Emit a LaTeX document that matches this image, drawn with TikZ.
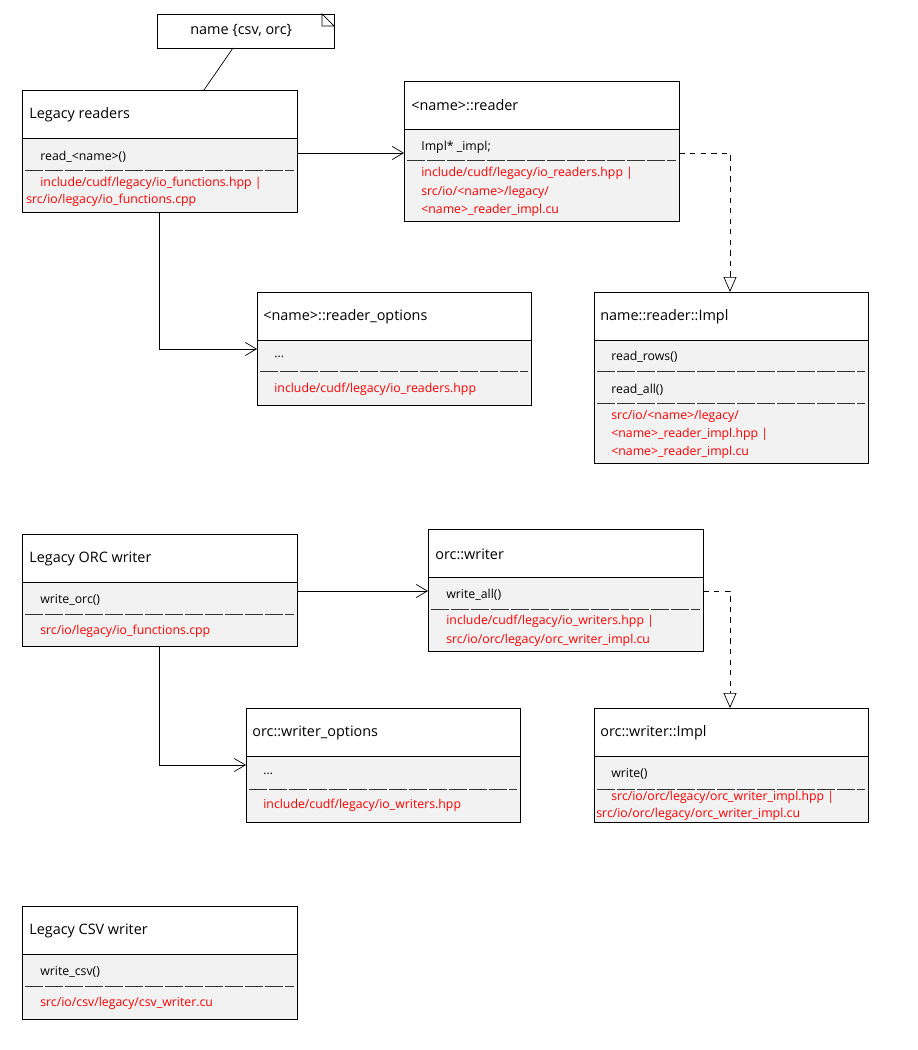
\documentclass[tikz,border=0pt]{standalone}
\usepackage{fontspec}
\setmainfont{Open Sans}
\usetikzlibrary{arrows.meta}

\tikzset{
  head/.style={draw=black, fill=white, anchor=north west, inner sep=0pt, minimum width=5.5cm, minimum height=0.96cm},
  body/.style={draw=black, fill=black!5, anchor=north west, inner sep=0pt, minimum width=5.5cm},
  title/.style={anchor=west, font=\fontsize{8.2}{9}\selectfont, inner sep=0pt},
  member/.style={anchor=west, font=\fontsize{7}{8}\selectfont, inner sep=0pt},
  path/.style={member, text=red},
  sep/.style={dash pattern=on 0.36cm off 0.04cm, black!80},
  assoc/.style={-{Straight Barb[length=2.2mm,width=2.6mm]}},
  realize/.style={dashed, -{Triangle[open,length=3mm,width=2.6mm]}},
}

\begin{document}
\begin{tikzpicture}[x=0.02cm, y=-0.02cm]
  \useasboundingbox (0,0) rectangle (918,1050);

  % note
  \node[draw, fill=white, anchor=north west, inner sep=0pt, minimum width=3.54cm, minimum height=0.68cm,
        path picture={\fill[white] (322,14) -- (334,26) -- (334,14) -- cycle;}] (note) at (157,14) {};
  \draw[fill=white] (322,14) -- (334,26) -- (322,26) -- cycle;
  \node[title] at (190,31) {name \{csv, orc\}};

  % Legacy readers
  \node[head] (lrd) at (22,90) {};
  \node[body, minimum height=1.48cm] (lrdb) at (22,138) {};
  \node[title] at (29,115) {Legacy readers};
  \node[member] at (40,157) {read\_<name>()};
  \draw[sep] (25,170) -- (294,170);
  \node[path] at (40,183) {include/cudf/legacy/io\_functions.hpp |};
  \node[path] at (26,200) {src/io/legacy/io\_functions.cpp};
  \draw (233,48) -- (204,90);

  % <name>::reader
  \node[head] (rdr) at (404,81) {};
  \node[body, minimum height=1.84cm] (rdrb) at (404,129) {};
  \node[title] at (411,105) {<name>::reader};
  \node[member] at (421,147) {Impl* \_impl;};
  \draw[sep] (407,160) -- (676,160);
  \node[path] at (421,173) {include/cudf/legacy/io\_readers.hpp |};
  \node[path] at (421,192) {src/io/<name>/legacy/};
  \node[path] at (421,210) {<name>\_reader\_impl.cu};

  % <name>::reader_options
  \node[head, minimum width=5.48cm] (ropt) at (257,292) {};
  \node[body, minimum width=5.48cm, minimum height=1.3cm] (roptb) at (257,340) {};
  \node[title] at (263,317) {<name>::reader\_options};
  \node[member] at (274,357) {...};
  \draw[sep] (260,371) -- (528,371);
  \node[path] at (274,389) {include/cudf/legacy/io\_readers.hpp};

  % name::reader::Impl
  \node[head, minimum width=5.48cm] (rimp) at (594,292) {};
  \node[body, minimum width=5.48cm, minimum height=2.46cm] (rimpb) at (594,340) {};
  \node[title] at (600,317) {name::reader::Impl};
  \node[member] at (611,357) {read\_rows()};
  \draw[sep] (597,371) -- (865,371);
  \node[member] at (611,390) {read\_all()};
  \draw[sep] (597,403) -- (865,403);
  \node[path] at (611,416) {src/io/<name>/legacy/};
  \node[path] at (611,434) {<name>\_reader\_impl.hpp |};
  \node[path] at (611,452) {<name>\_reader\_impl.cu};

  % reader connectors
  \coordinate (c1) at (159,349);
  \coordinate (c2) at (730,153);
  \draw[assoc] (297,153) -- (rdr.west |- 0,153);
  \draw[assoc] (lrdb.south -| 159,0) -- (c1) -- (ropt.west |- c1);
  \draw[realize] (rdrb.east |- c2) -- (c2) -- (rimp.north -| c2);

  % Legacy ORC writer
  \node[head] (low) at (22,534) {};
  \node[body, minimum height=1.28cm] (lowb) at (22,582) {};
  \node[title] at (29,559) {Legacy ORC writer};
  \node[member] at (40,600) {write\_orc()};
  \draw[sep] (25,614) -- (294,614);
  \node[path] at (40,631) {src/io/legacy/io\_functions.cpp};

  % orc::writer
  \node[head] (ow) at (428,529) {};
  \node[body, minimum height=1.48cm] (owb) at (428,577) {};
  \node[title] at (435,554) {orc::writer};
  \node[member] at (446,595) {write\_all()};
  \draw[sep] (431,609) -- (700,609);
  \node[path] at (446,621) {include/cudf/legacy/io\_writers.hpp |};
  \node[path] at (446,640) {src/io/orc/legacy/orc\_writer\_impl.cu};

  % orc::writer_options
  \node[head, minimum width=5.48cm] (wopt) at (246,708) {};
  \node[body, minimum width=5.48cm, minimum height=1.32cm] (woptb) at (246,756) {};
  \node[title] at (252,733) {orc::writer\_options};
  \node[member] at (263,774) {...};
  \draw[sep] (249,789) -- (517,789);
  \node[path] at (263,805) {include/cudf/legacy/io\_writers.hpp};

  % orc::writer::Impl
  \node[head, minimum width=5.48cm] (wimp) at (594,708) {};
  \node[body, minimum width=5.48cm, minimum height=1.32cm] (wimpb) at (594,756) {};
  \node[title] at (600,733) {orc::writer::Impl};
  \node[member] at (611,774) {write()};
  \draw[sep] (597,789) -- (865,789);
  \node[path] at (611,797) {src/io/orc/legacy/orc\_writer\_impl.hpp |};
  \node[path] at (596,814) {src/io/orc/legacy/orc\_writer\_impl.cu};

  % writer connectors
  \coordinate (c3) at (159,765);
  \coordinate (c4) at (730,591);
  \draw[assoc] (297,591) -- (ow.west |- 0,591);
  \draw[assoc] (lowb.south -| 159,0) -- (c3) -- (wopt.west |- c3);
  \draw[realize] (owb.east |- c4) -- (c4) -- (wimp.north -| c4);

  % Legacy CSV writer
  \node[head] (lcw) at (22,906) {};
  \node[body, minimum height=1.3cm] (lcwb) at (22,954) {};
  \node[title] at (29,931) {Legacy CSV writer};
  \node[member] at (40,972) {write\_csv()};
  \draw[sep] (25,986) -- (294,986);
  \node[path] at (40,1003) {src/io/csv/legacy/csv\_writer.cu};
\end{tikzpicture}
\end{document}
